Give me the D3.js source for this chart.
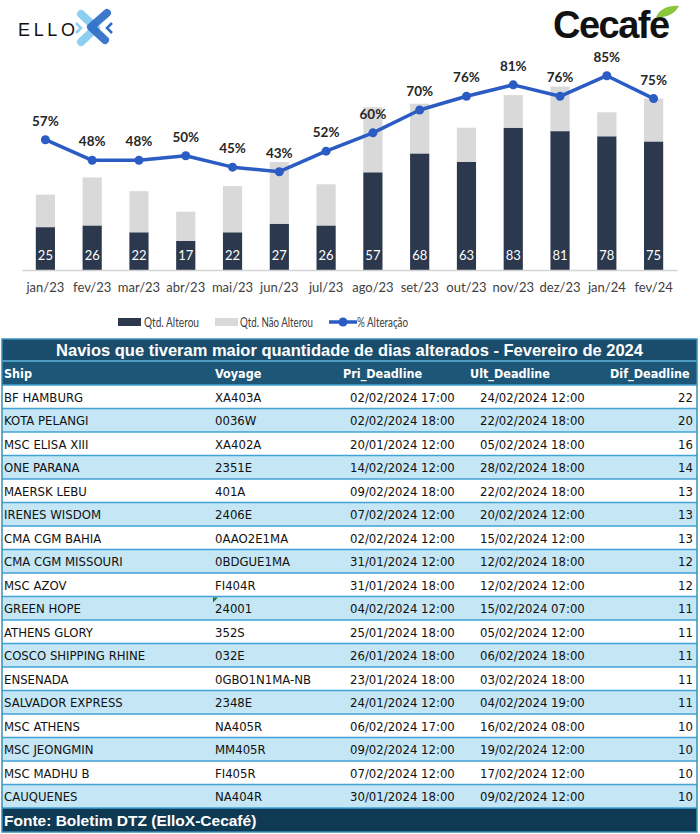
<!DOCTYPE html>
<html>
<head>
<meta charset="utf-8">
<script src="https://cdn.jsdelivr.net/npm/d3@7"></script>
<style>
  body { margin: 0; background: #fff; }
  svg { display: block; }
</style>
</head>
<body>
<div id="chart"></div>
<script>
const width = 700;
const height = 834;

// chart data
const months = ["jan/23", "fev/23", "mar/23", "abr/23", "mai/23", "jun/23", "jul/23",
  "ago/23", "set/23", "out/23", "nov/23", "dez/23", "jan/24", "fev/24"];
const alterou = [25, 26, 22, 17, 22, 27, 26, 57, 68, 63, 83, 81, 78, 75];
const naoAlterou = [19, 28, 24, 17, 27, 36, 24, 38, 29, 20, 19, 26, 14, 25];
const pctAlteracao = [0.57, 0.48, 0.48, 0.50, 0.45, 0.43, 0.52, 0.60, 0.70, 0.76, 0.81, 0.76, 0.85, 0.75];
const legendLabels = ["Qtd. Alterou", "Qtd. Não Alterou", "% Alteração"];

// table data
const tableTitle = "Navios que tiveram maior quantidade de dias alterados - Fevereiro de 2024";
const headers = ["Ship", "Voyage", "Pri_Deadline", "Ult_Deadline", "Dif_Deadline"];
const ships = ["BF HAMBURG", "KOTA PELANGI", "MSC ELISA XIII", "ONE PARANA", "MAERSK LEBU",
  "IRENES WISDOM", "CMA CGM BAHIA", "CMA CGM MISSOURI", "MSC AZOV", "GREEN HOPE", "ATHENS GLORY",
  "COSCO SHIPPING RHINE", "ENSENADA", "SALVADOR EXPRESS", "MSC ATHENS", "MSC JEONGMIN",
  "MSC MADHU B", "CAUQUENES"];
const voyages = ["XA403A", "0036W", "XA402A", "2351E", "401A", "2406E", "0AAO2E1MA", "0BDGUE1MA",
  "FI404R", "24001", "352S", "032E", "0GBO1N1MA-NB", "2348E", "NA405R", "MM405R", "FI405R", "NA404R"];
const priDeadlines = ["02/02/2024 17:00", "02/02/2024 18:00", "20/01/2024 12:00", "14/02/2024 12:00",
  "09/02/2024 18:00", "07/02/2024 12:00", "02/02/2024 12:00", "31/01/2024 12:00", "31/01/2024 18:00",
  "04/02/2024 12:00", "25/01/2024 18:00", "26/01/2024 18:00", "23/01/2024 18:00", "24/01/2024 12:00",
  "06/02/2024 17:00", "09/02/2024 12:00", "07/02/2024 12:00", "30/01/2024 18:00"];
const ultDeadlines = ["24/02/2024 12:00", "22/02/2024 18:00", "05/02/2024 18:00", "28/02/2024 18:00",
  "22/02/2024 18:00", "20/02/2024 12:00", "15/02/2024 12:00", "12/02/2024 18:00", "12/02/2024 12:00",
  "15/02/2024 07:00", "05/02/2024 12:00", "06/02/2024 18:00", "03/02/2024 18:00", "04/02/2024 19:00",
  "16/02/2024 08:00", "19/02/2024 12:00", "17/02/2024 12:00", "09/02/2024 12:00"];
const difDeadlines = [22, 20, 16, 14, 13, 13, 13, 12, 12, 11, 11, 11, 11, 11, 10, 10, 10, 10];
const footerText = "Fonte: Boletim DTZ (ElloX-Cecafé)";

const darkBar = "#2b384d";
const lightBar = "#d9d9d9";
const lineColor = "#2b5cc3";
const chartFont = "Lato, 'Open Sans', sans-serif";
const tableFont = "'DejaVu Sans Condensed', 'DejaVu Sans', sans-serif";

const svg = d3.select('#chart')
  .append('svg')
  .attr('width', width)
  .attr('height', height);

svg.append('rect').attr('width', width).attr('height', height).attr('fill', '#fff');

// ---- logos ----
const logo = svg.append('g');
logo.append('text')
  .attr('x', 18).attr('y', 36)
  .attr('font-family', "'Liberation Sans', Arial, sans-serif")
  .attr('font-size', 18)
  .attr('textLength', 57)
  .attr('fill', '#111')
  .text('ELLO');
logo.append('path')
  .attr('d', 'M81,14 L96,28 L81,42')
  .attr('fill', 'none').attr('stroke', '#8ccff2').attr('stroke-width', 8)
  .attr('stroke-linecap', 'round').attr('stroke-linejoin', 'round');
logo.append('path')
  .attr('d', 'M107,13 L91,27 L105,40')
  .attr('fill', 'none').attr('stroke', '#2d6cc6').attr('stroke-width', 8)
  .attr('stroke-linecap', 'round').attr('stroke-linejoin', 'round').attr('opacity', 0.92);
logo.append('path')
  .attr('d', 'M76,23 L81,28 L76,33')
  .attr('fill', 'none').attr('stroke', '#8ccff2').attr('stroke-width', 2.5);
logo.append('path')
  .attr('d', 'M112,23 L107,28 L112,33')
  .attr('fill', 'none').attr('stroke', '#2d6cc6').attr('stroke-width', 2.5);

logo.append('text')
  .attr('x', 553).attr('y', 38)
  .attr('font-family', "'Liberation Sans', Arial, sans-serif")
  .attr('font-weight', 'bold')
  .attr('font-size', 38)
  .attr('letter-spacing', -1.5)
  .attr('fill', '#111')
  .text('Cecafe');
logo.append('path')
  .attr('d', 'M656,17 C660,8 670,5 679,6 C675,14 666,18 656,17 Z')
  .attr('fill', '#8cc63f');

// ---- chart ----
const baseY = 270;
const x = d3.scaleBand()
  .domain(months)
  .range([22, 677])
  .paddingInner(0.59)
  .paddingOuter(0.295);

const y = d3.scaleLinear().domain([0, 140]).range([baseY, 30]);
const yPct = d3.scaleLinear().domain([0, 1.05]).range([baseY, 30]);

const rows = months.map((m, i) => ({month: m, alterou: alterou[i], naoAlterou: naoAlterou[i], pct: pctAlteracao[i]}));
const stacked = d3.stack().keys(['alterou', 'naoAlterou'])(rows);
const barColors = [darkBar, lightBar];

const plot = svg.append('g');

plot.selectAll('.series')
  .data(stacked)
  .enter().append('g')
  .attr('fill', (d, i) => barColors[i])
  .selectAll('rect')
  .data(d => d)
  .enter().append('rect')
  .attr('x', d => x(d.data.month))
  .attr('y', d => y(d[1]))
  .attr('width', x.bandwidth())
  .attr('height', d => y(d[0]) - y(d[1]));

// bar value labels
plot.selectAll('.barLabel')
  .data(rows)
  .enter().append('text')
  .attr('x', d => x(d.month) + x.bandwidth() / 2)
  .attr('y', baseY - 10)
  .attr('text-anchor', 'middle')
  .attr('font-family', chartFont)
  .attr('font-size', 13)
  .attr('fill', '#fff')
  .text(d => d.alterou);

// axis
const xAxis = plot.append('g')
  .attr('transform', `translate(0,${baseY})`)
  .call(d3.axisBottom(x).tickSize(0).tickPadding(13));
xAxis.select('.domain').attr('stroke', '#d4d4d4').attr('stroke-width', 1.5);
xAxis.selectAll('text')
  .attr('font-family', chartFont)
  .attr('font-size', 13)
  .attr('fill', '#404040');

// percent line
const line = d3.line()
  .x(d => x(d.month) + x.bandwidth() / 2)
  .y(d => yPct(d.pct));

plot.append('path')
  .datum(rows)
  .attr('d', line)
  .attr('fill', 'none')
  .attr('stroke', lineColor)
  .attr('stroke-width', 3.5)
  .attr('stroke-linejoin', 'round');

plot.selectAll('.dot')
  .data(rows)
  .enter().append('circle')
  .attr('cx', d => x(d.month) + x.bandwidth() / 2)
  .attr('cy', d => yPct(d.pct))
  .attr('r', 4.5)
  .attr('fill', lineColor);

plot.selectAll('.pctLabel')
  .data(rows)
  .enter().append('text')
  .attr('x', d => x(d.month) + x.bandwidth() / 2)
  .attr('y', d => yPct(d.pct) - 14)
  .attr('text-anchor', 'middle')
  .attr('font-family', chartFont)
  .attr('font-weight', 'bold')
  .attr('font-size', 13.5)
  .attr('fill', '#262626')
  .text(d => d3.format('.0%')(d.pct));

// legend
const legend = svg.append('g').attr('font-family', chartFont).attr('font-size', 13.5).attr('fill', '#404040');
const legX = [118, 215, 329];
legend.selectAll('.legRect')
  .data([darkBar, lightBar])
  .enter().append('rect')
  .attr('x', (d, i) => legX[i])
  .attr('y', 318)
  .attr('width', 23)
  .attr('height', 8)
  .attr('fill', d => d);
legend.append('line')
  .attr('x1', legX[2]).attr('x2', legX[2] + 28)
  .attr('y1', 322).attr('y2', 322)
  .attr('stroke', lineColor).attr('stroke-width', 3.5);
legend.append('circle')
  .attr('cx', legX[2] + 14).attr('cy', 322).attr('r', 4.5).attr('fill', lineColor);
legend.selectAll('.legText')
  .data(legendLabels)
  .enter().append('text')
  .attr('x', (d, i) => [144, 240, 357][i])
  .attr('y', 327)
  .attr('textLength', (d, i) => [55, 73, 51][i])
  .attr('lengthAdjust', 'spacingAndGlyphs')
  .text(d => d);

// ---- table ----
const tableX = 2;
const tableW = 695;
const titleTop = 339;
const headTop = 361;
const rowTop = 385;
const rowH = 23.5;
const colX = [4, 215, 343, 470, 610];

const table = svg.append('g').attr('font-family', tableFont).attr('font-stretch', 'condensed');

table.append('rect')
  .attr('x', tableX).attr('y', titleTop).attr('width', tableW).attr('height', headTop - titleTop)
  .attr('fill', '#1a4d6c');
table.append('text')
  .attr('x', tableX + tableW / 2).attr('y', titleTop + 16.5)
  .attr('text-anchor', 'middle')
  .attr('font-family', "'Liberation Sans', Arial, sans-serif")
  .attr('font-stretch', 'normal')
  .attr('font-weight', 'bold').attr('font-size', 16.5).attr('fill', '#fff')
  .text(tableTitle);

table.append('rect')
  .attr('x', tableX).attr('y', headTop).attr('width', tableW).attr('height', rowTop - headTop)
  .attr('fill', '#1d5676');
table.append('line')
  .attr('x1', tableX).attr('x2', tableX + tableW)
  .attr('y1', headTop).attr('y2', headTop)
  .attr('stroke', '#5fb4de').attr('stroke-width', 1.5);
table.selectAll('.head')
  .data(headers)
  .enter().append('text')
  .attr('x', (d, i) => colX[i])
  .attr('y', headTop + 17)
  .attr('font-weight', 'bold').attr('font-size', 12.5).attr('fill', '#fff')
  .text(d => d);

const tableRows = ships.map((s, i) => [s, voyages[i], priDeadlines[i], ultDeadlines[i], difDeadlines[i]]);

const rowG = table.selectAll('.row')
  .data(tableRows)
  .enter().append('g')
  .attr('transform', (d, i) => `translate(0,${rowTop + i * rowH})`);

rowG.append('rect')
  .attr('x', tableX).attr('width', tableW).attr('height', rowH)
  .attr('fill', (d, i) => i % 2 === 0 ? '#ffffff' : '#c4e6f5');
rowG.append('line')
  .attr('x1', tableX).attr('x2', tableX + tableW)
  .attr('y1', 0).attr('y2', 0)
  .attr('stroke', '#41a2d6').attr('stroke-width', 1.5);

rowG.selectAll('text')
  .data(d => d)
  .enter().append('text')
  .attr('x', (d, i) => i === 4 ? 693 : (i >= 2 ? [0, 0, 350, 480][i] : colX[i]))
  .attr('y', 16.5)
  .attr('text-anchor', (d, i) => i === 4 ? 'end' : 'start')
  .attr('font-size', 13)
  .attr('fill', '#111')
  .text(d => d);

// small green marker in GREEN HOPE voyage cell
table.append('path')
  .attr('d', `M213,${rowTop + 9 * rowH + 1} h5 l-5,5 z`)
  .attr('fill', '#1e7b34');

const footTop = rowTop + ships.length * rowH;
table.append('rect')
  .attr('x', tableX).attr('y', footTop).attr('width', tableW).attr('height', height - 2 - footTop)
  .attr('fill', '#0e3a54');
table.append('line')
  .attr('x1', tableX).attr('x2', tableX + tableW)
  .attr('y1', footTop).attr('y2', footTop)
  .attr('stroke', '#41a2d6').attr('stroke-width', 1.5);
table.append('text')
  .attr('x', 4).attr('y', footTop + 17.5)
  .attr('font-family', "'Liberation Sans', Arial, sans-serif")
  .attr('font-stretch', 'normal')
  .attr('font-weight', 'bold').attr('font-size', 15.5).attr('fill', '#fff')
  .text(footerText);

// outer border
table.append('rect')
  .attr('x', tableX).attr('y', titleTop).attr('width', tableW).attr('height', height - 2 - titleTop)
  .attr('fill', 'none').attr('stroke', '#3b8fb8').attr('stroke-width', 1.5);
</script>
</body>
</html>
